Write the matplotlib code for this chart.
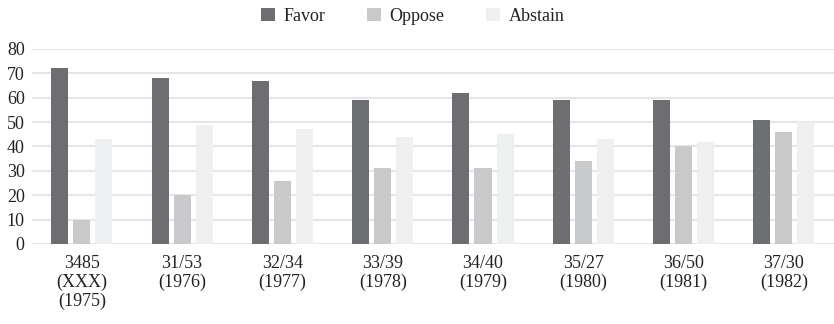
import numpy as np
import matplotlib
matplotlib.use("Agg")
import matplotlib.pyplot as plt

# UN General Assembly votes by resolution and year
resolutions = ["3485\n(XXX)\n(1975)", "31/53\n(1976)", "32/34\n(1977)", "33/39\n(1978)",
               "34/40\n(1979)", "35/27\n(1980)", "36/50\n(1981)", "37/30\n(1982)"]
favor = [72, 68, 67, 59, 62, 59, 59, 51]
oppose = [10, 20, 26, 31, 31, 34, 40, 46]
abstain = [43, 49, 47, 44, 45, 43, 42, 50]

plt.rcParams['font.family'] = ['Liberation Serif', 'DejaVu Serif']

fig = plt.figure(figsize=(8.34, 3.24), dpi=100)
ax = fig.add_axes([0.038, 0.247, 0.962, 0.602])

x = np.arange(len(resolutions))
w = 0.17
step = 0.22
ax.bar(x - step, favor, w, color="#6d6e71", label="Favor", zorder=3)
ax.bar(x, oppose, w, color="#c8c9cb", label="Oppose", zorder=3)
ax.bar(x + step, abstain, w, color="#eeeff1", label="Abstain", zorder=3)

ax.set_xlim(-0.5, len(resolutions) - 0.5)
ax.set_ylim(0, 80)
ax.set_yticks(range(0, 81, 10))
ax.yaxis.grid(True, color="#e6e6e6", linewidth=1.5, zorder=0)
ax.set_axisbelow(True)
for s in ax.spines.values():
    s.set_visible(False)

ax.set_xticks(x)
ax.set_xticklabels(resolutions, fontsize=13, color="#222222", va="top", linespacing=1.12)
ax.tick_params(axis="x", length=0, pad=8)
ax.tick_params(axis="y", length=0, pad=5, labelsize=13, labelcolor="#222222")

fig.legend(loc="upper center", bbox_to_anchor=(0.495, 1.025), ncol=3, frameon=False,
           fontsize=13, handlelength=0.75, handleheight=0.75, handletextpad=0.5,
           columnspacing=2.3, labelcolor="#222222")

plt.savefig("out.png", dpi=100)
